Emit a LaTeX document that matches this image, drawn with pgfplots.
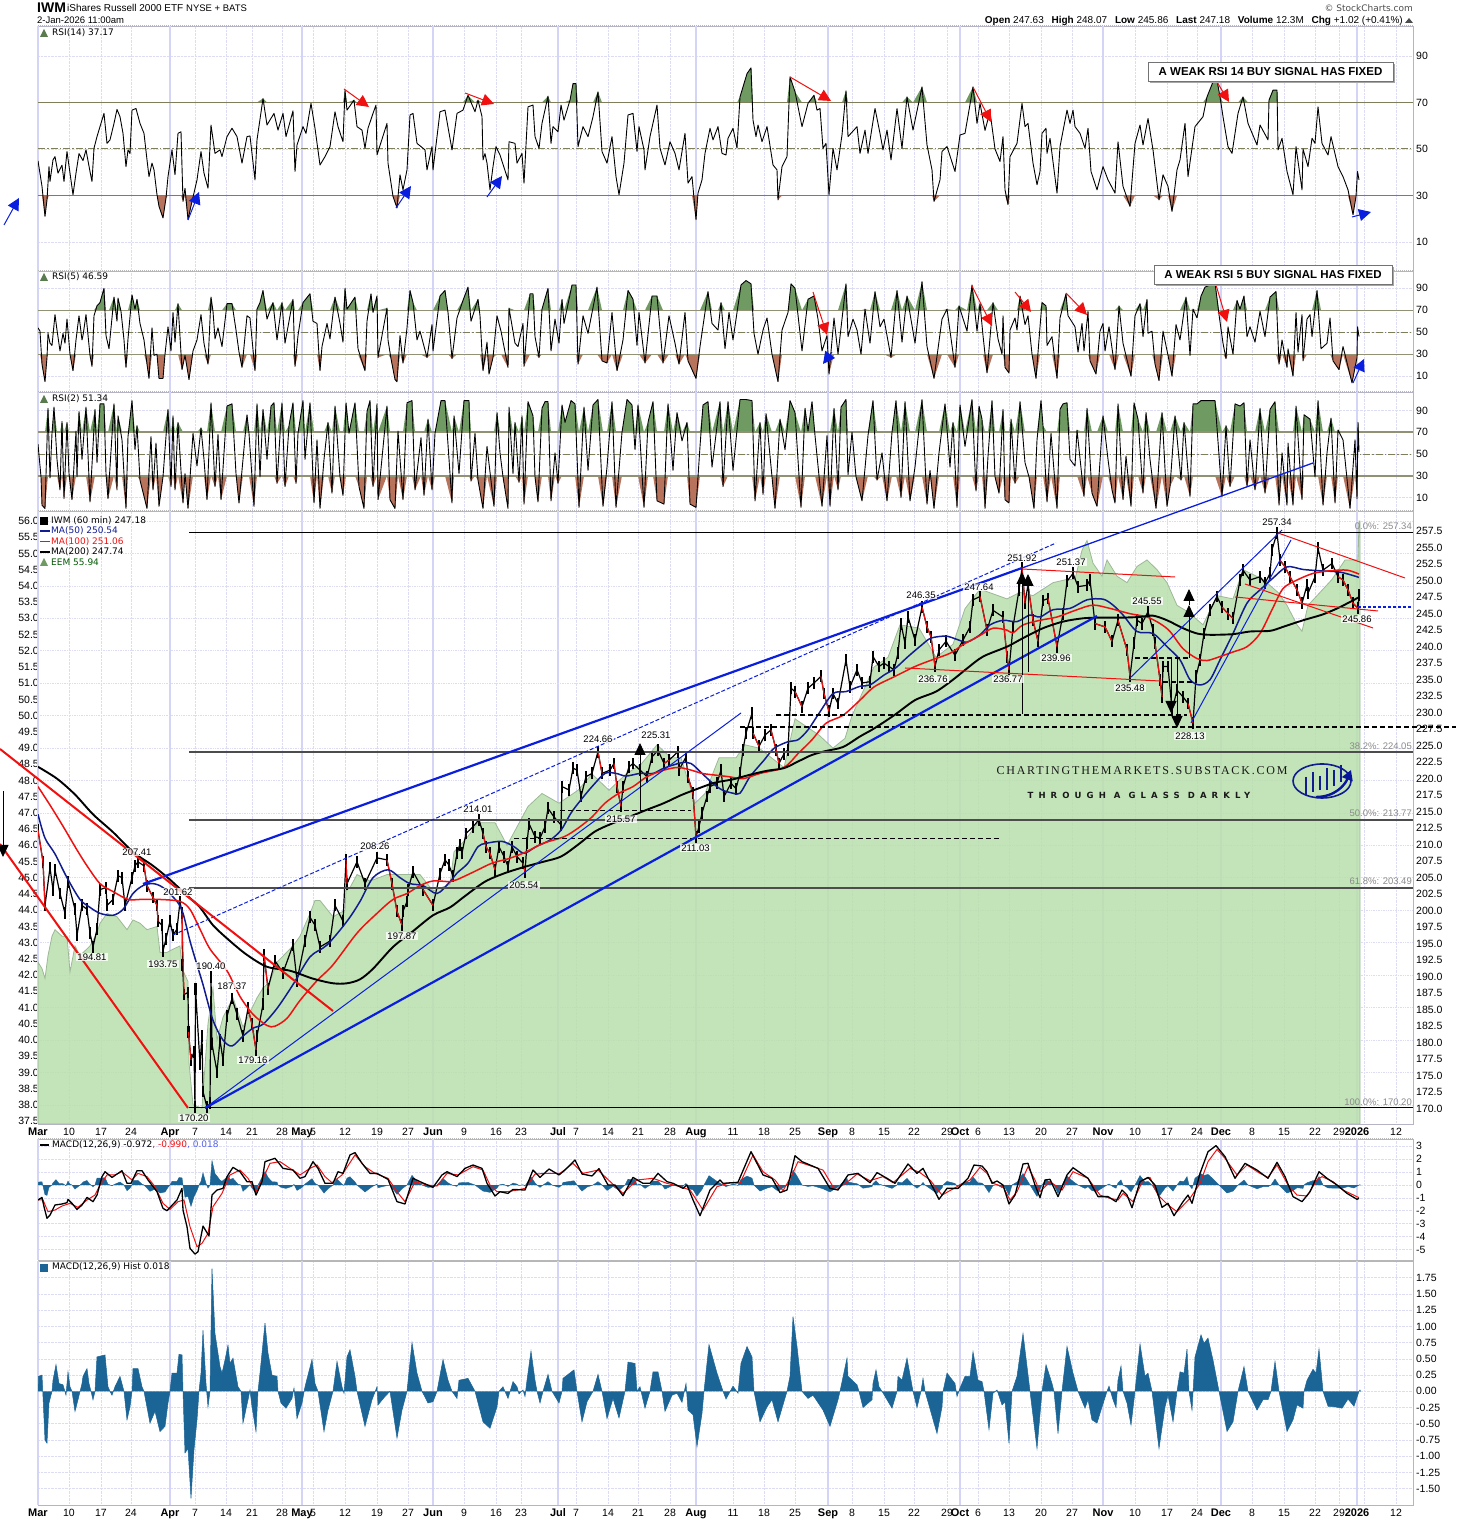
\documentclass[border=0pt]{standalone}
\usepackage{fontspec}
\setmainfont{Liberation Sans}
\newfontfamily\djf{DejaVu Sans}
\newfontfamily\wma[LetterSpace=15]{Liberation Serif}
\newfontfamily\wmb[LetterSpace=60]{DejaVu Sans}
\usepackage{pgfplots}
\usepackage{pgfplotstable}
\pgfplotsset{compat=1.18}
\usetikzlibrary{arrows.meta}
\definecolor{gridc}{HTML}{DCDCF4}
\definecolor{monthc}{HTML}{D4D4F6}
\definecolor{framec}{HTML}{B4B4C4}
\definecolor{upc}{HTML}{6F9A62}
\definecolor{dnc}{HTML}{B8735C}
\definecolor{levc}{HTML}{7E7E5A}
\definecolor{eemc}{HTML}{BAE0AE}
\definecolor{eeme}{HTML}{9DB897}
\definecolor{histc}{HTML}{1B6496}
\definecolor{navyl}{HTML}{101C90}
\definecolor{bluel}{HTML}{0A1EE0}
\definecolor{redl}{HTML}{F01010}
\definecolor{fibg}{HTML}{8A8A8A}
\pgfplotstableread[row sep=\\]{x y\\
38 44.9\\42 33.9\\45 21\\47 28.1\\49 42.4\\50 36\\53 45.3\\55 46.7\\58 39.6\\62 43\\64 36\\67 48.9\\70 39.6\\73 30.3\\76 39.6\\79 48\\83 45\\86 49.6\\90 40.3\\92 36\\94 50.3\\97 55.3\\100 59.6\\104 65.3\\107 52.4\\110 53.9\\114 61\\117 67\\120 63.9\\123 56.7\\126 42.4\\128 49.6\\130 48\\132 66.7\\136 67.4\\140 61\\144 56.7\\147 45.3\\149 38.1\\152 43.9\\154 41\\157 30.3\\159 25.3\\163 20.3\\166 28.9\\168 38.1\\172 49.6\\175 38.9\\178 56.7\\181 57.4\\183 27.4\\185 33.1\\188 19.6\\192 27.4\\197 36.7\\201 48.9\\204 39.6\\208 33.1\\211 60.3\\215 48.1\\220 49.6\\222 46.7\\227 55.3\\232 58.9\\237 55.3\\242 43.9\\247 55.3\\250 55.6\\255 36.7\\257 53.9\\263 71.7\\267 60.3\\274 65.3\\278 58.1\\283 65.3\\286 55.3\\293 66.4\\295 40.3\\297 51.7\\303 59.6\\306 56.7\\311 69.6\\315 58.9\\320 43.1\\325 46.7\\330 51\\335 66\\338 59.6\\343 53.1\\345 75.3\\347 66.7\\354 71\\357 59.6\\362 58.1\\365 50.3\\368 58.9\\373 65.3\\376 68.9\\377 47.4\\387 61\\388 43.9\\393 29.6\\397 24.6\\400 38.9\\403 32.4\\407 41\\410 64.6\\413 65.3\\417 52.4\\425 49.6\\427 41\\432 51\\433 41\\440 66\\445 66.7\\452 49.6\\457 65.3\\463 66.7\\468 73.1\\475 66\\478 71\\482 63.9\\
483 45.3\\485 48\\487 43.9\\490 32.4\\493 42.4\\496 51\\500 47.4\\508 36.7\\509 53.1\\515 52.4\\517 43.9\\522 48.1\\524 35.3\\528 68.1\\533 68.9\\535 55.3\\539 50.3\\542 61\\548 72.7\\551 52.4\\553 59.6\\558 57.4\\561 68.9\\564 62.4\\570 71\\573 78.1\\576 78.1\\578 51\\583 59.6\\588 55.3\\593 63.9\\598 74.6\\602 48.9\\607 43.9\\612 55.3\\616 38.1\\619 30.3\\624 43.9\\628 64.6\\633 65.3\\637 48.9\\639 59.6\\644 49.6\\645 41\\650 55.3\\657 68.9\\660 50.3\\665 43.1\\670 53.1\\675 48.1\\679 41\\685 56.7\\688 35.3\\692 38.1\\696 19.6\\698 31\\702 36.7\\705 48.1\\710 58.9\\713 53.9\\718 59.6\\722 48.1\\726 47.4\\728 54.6\\733 58.9\\737 50.3\\740 72.4\\747 82.4\\751 84.9\\753 62.4\\756 55.3\\758 60.3\\762 53.1\\767 59.6\\773 43.1\\777 41\\778 28.1\\782 42.4\\787 46.7\\790 81\\795 74.6\\802 59.6\\808 69.6\\814 73.1\\817 66.7\\820 67.4\\823 50.3\\826 52.4\\829 30.3\\833 50.3\\837 41\\842 56\\846 75\\848 55.3\\857 59.6\\860 48.1\\865 58.1\\868 48.1\\875 67.4\\880 56.7\\883 49.6\\887 58.1\\891 45.3\\897 67.4\\902 50.3\\907 72.4\\913 58.1\\922 76.7\\927 51.7\\932 41\\934 27.4\\940 36.7\\942 48.9\\947 51\\955 40.3\\960 56\\965 56.7\\973 76.7\\977 61\\980 69.6\\985 58\\990 66\\995 50\\
1000 44.6\\1003 55.3\\1005 32.4\\1008 26\\1010 46.7\\1017 52.4\\1022 69.6\\1025 59.6\\1028 61\\1033 43.9\\1037 34.6\\1040 40.3\\1042 56.7\\1046 58.9\\1047 48.1\\1050 54.6\\1057 31\\1060 51\\1067 66.7\\1070 61\\1073 66.7\\1075 59.6\\1080 56.7\\1085 50.3\\1088 58.9\\1091 40.3\\1097 32.4\\1103 42.4\\1108 36.7\\1115 31\\1118 53.1\\1123 33.9\\1130 25.3\\1135 52.4\\1140 60.3\\1143 51.7\\1148 63.1\\1153 49.6\\1159 28.1\\1163 38.9\\1168 33.9\\1172 23.1\\1177 41\\1180 45.3\\1185 61\\1188 38.1\\1195 59.6\\1203 63.9\\1207 72.4\\1213 78.9\\1217 79.6\\1220 72.4\\1223 63.9\\1228 51\\1232 48.1\\1238 65.3\\1243 72.4\\1248 61\\1257 51.7\\1260 60.3\\1268 53.9\\1269 71\\1273 75.3\\1277 75.3\\1278 49.6\\1282 54.6\\1287 40.3\\1293 30.3\\1296 51\\1302 32.4\\1303 50\\1308 42.4\\1312 54.6\\1315 52.4\\1318 68.1\\1322 52.4\\1328 47.4\\1331 55.3\\1338 42.4\\1343 38.1\\1348 32.4\\1353 21.7\\1356 29.6\\1357.5 40.3\\1359 36.7\\
}\rsiA
\pgfplotstableread[row sep=\\]{x y\\
38 54\\40 51\\42 21\\45 5\\47 27\\48 49\\50 40\\52 38\\55 66\\57 52\\60 33\\63 49\\65 40\\67 62\\70 30\\73 15\\76 43\\79 65\\82 43\\83 47\\86 66\\90 29\\92 19\\94 65\\97 74\\100 77\\104 90\\106 47\\109 35\\114 82\\117 60\\118 81\\121 69\\124 43\\126 18\\128 44\\132 84\\135 71\\137 80\\140 58\\144 43\\147 21\\149 8\\152 54\\154 29\\157 30\\159 8\\163 8\\165 30\\168 55\\171 33\\173 68\\175 41\\178 76\\182 16\\185 29\\189 7\\193 33\\197 43\\201 66\\204 40\\208 21\\211 82\\213 69\\215 44\\218 54\\222 37\\227 76\\232 76\\236 52\\239 32\\242 18\\247 65\\250 63\\255 15\\257 71\\260 77\\263 88\\267 62\\273 77\\277 43\\282 77\\285 40\\293 80\\295 19\\298 47\\303 77\\310 85\\313 60\\317 58\\320 15\\322 37\\327 58\\330 44\\335 82\\340 58\\343 41\\345 90\\347 71\\355 82\\358 35\\365 15\\367 60\\371 85\\373 68\\377 83\\378 27\\387 72\\388 43\\391 26\\395 7\\397 5\\400 47\\403 22\\407 54\\410 88\\413 77\\417 43\\420 51\\427 27\\432 57\\433 33\\440 83\\445 88\\448 68\\452 26\\457 63\\463 79\\468 91\\471 60\\478 80\\480 65\\
483 15\\487 41\\489 12\\493 27\\497 65\\501 51\\508 18\\509 72\\515 40\\518 37\\523 58\\524 19\\530 85\\533 85\\535 46\\539 27\\542 71\\548 90\\551 33\\555 62\\559 40\\562 80\\564 58\\572 93\\576 93\\578 21\\583 65\\588 49\\597 91\\602 24\\607 22\\612 68\\617 15\\623 43\\628 88\\633 80\\637 38\\639 68\\645 22\\652 83\\657 83\\663 22\\669 65\\675 40\\679 21\\685 68\\688 24\\696 8\\700 37\\708 87\\712 58\\718 52\\721 77\\725 35\\729 68\\733 43\\741 93\\746 97\\751 94\\754 49\\758 30\\763 52\\767 63\\772 30\\778 5\\782 52\\788 68\\791 94\\795 90\\802 33\\808 80\\814 83\\818 62\\822 33\\827 47\\829 12\\834 63\\838 30\\846 94\\848 46\\853 62\\857 52\\861 30\\865 71\\870 40\\875 87\\880 55\\884 62\\891 27\\897 88\\902 41\\907 83\\915 40\\922 96\\927 37\\934 8\\942 62\\947 71\\955 18\\959 74\\967 51\\
972 93\\977 51\\980 76\\983 47\\987 13\\993 77\\998 44\\1002 30\\1003 65\\1005 18\\1009 13\\1010 52\\1015 63\\1017 52\\1020 83\\1025 57\\1028 65\\1032 30\\1036 8\\1040 55\\1042 77\\1046 74\\1047 38\\1052 46\\1057 8\\1060 63\\1066 85\\1068 65\\1075 55\\1078 32\\1082 58\\1084 33\\1088 69\\1090 24\\1096 12\\1100 51\\1103 58\\1105 33\\1109 55\\1115 16\\1119 74\\1123 40\\1131 10\\1135 65\\1140 76\\1143 46\\1147 80\\1148 49\\1152 51\\1155 21\\1159 6\\1163 51\\1168 29\\1172 10\\1176 57\\1180 43\\1186 82\\1190 29\\1193 71\\1197 63\\1201 83\\1205 91\\1215 95\\1219 66\\1223 40\\1226 26\\1228 55\\1233 30\\1237 79\\1240 71\\1244 83\\1247 46\\1250 55\\1255 41\\1260 69\\1265 46\\1270 82\\1276 87\\1279 21\\1282 43\\1287 18\\1288 35\\1293 10\\1296 68\\1298 32\\1302 66\\1303 24\\1307 62\\1310 66\\1312 46\\1317 88\\1321 35\\1327 40\\1330 63\\1333 24\\1339 16\\1343 37\\1352 4\\1357 27\\1357.5 55\\1359 46\\
}\rsiB
\pgfplotstableread[row sep=\\]{x y\\
38 59\\41 29\\42 3\\45 0\\48 92\\50 28\\52 69\\54 93\\57 45\\60 17\\62 80\\64 9\\67 79\\69 32\\72 8\\76 71\\77 29\\79 89\\82 45\\86 93\\90 6\\95 91\\97 42\\100 96\\104 96\\106 32\\108 9\\114 96\\117 17\\118 85\\122 63\\126 0\\128 66\\132 99\\135 54\\137 76\\140 26\\147 0\\151 66\\153 17\\156 60\\159 2\\163 29\\168 91\\171 20\\173 85\\175 17\\178 79\\183 5\\185 32\\188 0\\193 69\\197 39\\201 74\\204 45\\207 8\\211 97\\215 20\\218 68\\221 8\\227 94\\232 96\\236 32\\239 5\\243 45\\247 86\\249 69\\254 2\\257 96\\260 29\\263 91\\267 45\\271 94\\274 97\\277 23\\282 97\\285 20\\289 76\\293 97\\296 23\\298 69\\303 99\\305 45\\310 97\\314 5\\317 63\\320 0\\324 45\\328 79\\332 14\\335 94\\340 29\\343 12\\346 97\\349 69\\355 97\\359 20\\364 0\\367 89\\370 99\\373 20\\377 96\\378 8\\387 94\\390 8\\395 0\\398 71\\403 8\\407 97\\412 99\\415 17\\421 65\\424 12\\428 82\\432 17\\435 69\\441 99\\445 99\\452 5\\454 85\\459 32\\464 99\\469 99\\471 25\\475 69\\478 26\\483 0\\
487 57\\494 2\\497 88\\500 51\\503 29\\508 0\\509 93\\513 32\\515 79\\519 24\\522 85\\524 4\\528 98\\533 85\\535 29\\538 6\\542 92\\545 98\\548 98\\551 7\\555 51\\558 23\\562 95\\565 79\\571 99\\575 96\\579 1\\584 93\\588 35\\593 95\\598 100\\603 2\\607 38\\612 98\\616 1\\622 70\\627 100\\632 95\\635 54\\638 95\\644 1\\648 79\\653 98\\657 7\\664 4\\668 96\\673 35\\677 88\\682 62\\687 79\\690 4\\696 1\\700 57\\703 95\\708 98\\712 38\\720 98\\723 20\\728 98\\733 35\\740 100\\746 100\\752 99\\755 7\\760 79\\763 13\\766 87\\772 29\\775 0\\780 82\\785 54\\790 99\\795 88\\801 1\\805 92\\808 71\\812 98\\815 67\\822 2\\827 67\\830 2\\834 92\\838 17\\841 93\\846 100\\848 31\\852 70\\856 29\\862 7\\868 67\\873 99\\877 26\\882 51\\887 7\\892 70\\896 99\\901 10\\905 98\\910 7\\915 38\\922 100\\927 4\\930 35\\934 0\\939 51\\945 96\\950 38\\953 79\\957 1\\960 95\\965 57\\972 100\\
976 16\\979 94\\982 82\\985 0\\988 48\\992 99\\995 29\\999 14\\1003 91\\1005 8\\1009 5\\1011 82\\1015 23\\1020 98\\1025 42\\1029 29\\1034 0\\1037 63\\1041 99\\1043 76\\1047 6\\1051 69\\1057 0\\1060 91\\1063 96\\1067 97\\1070 45\\1075 39\\1077 72\\1084 11\\1087 92\\1092 14\\1097 2\\1103 85\\1108 45\\1112 17\\1115 5\\1118 96\\1123 8\\1126 48\\1131 2\\1134 97\\1138 82\\1143 14\\1146 88\\1150 45\\1156 0\\1162 88\\1167 2\\1170 20\\1175 85\\1181 26\\1184 79\\1190 11\\1193 96\\1197 96\\1201 99\\1208 99\\1215 99\\1222 11\\1226 76\\1230 20\\1235 96\\1240 94\\1244 97\\1247 20\\1250 63\\1255 17\\1260 92\\1265 14\\1270 91\\1275 98\\1279 3\\1282 51\\1287 3\\1288 60\\1293 3\\1296 94\\1302 8\\1304 86\\1310 82\\1315 29\\1318 99\\1323 3\\1327 51\\1331 83\\1335 5\\1338 72\\1343 63\\1350 0\\1355 63\\1357 9\\1358 79\\1359 52\\
}\rsiC
\pgfplotstableread[row sep=\\]{x y\\
38 42.4\\42 42.2\\45 41.9\\48 42.6\\52 43.2\\55 43.4\\62 43.2\\67 43.2\\70 42.1\\75 42.9\\80 42.6\\90 42.9\\97 43.3\\100 43.6\\107 43.9\\117 43.8\\127 43.4\\133 43.7\\140 43.6\\147 43.4\\157 43.5\\160 42.7\\167 42.7\\173 42.8\\180 42.9\\182 42.2\\188 41.8\\189 39.3\\193 38\\202 37.9\\208 40.5\\213 41.6\\217 40\\223 40.7\\233 41.3\\243 40.4\\257 41.3\\263 41.6\\270 41.8\\277 42.4\\293 42.9\\300 43.2\\310 43.9\\315 44.3\\320 44.3\\333 43.8\\345 44\\346 44.6\\350 44.7\\357 45.1\\370 44.9\\387 45.1\\407 45.1\\420 45.1\\433 44.6\\450 44.8\\454 45.8\\466 46.2\\478 46.7\\495 46.7\\502 46.3\\507 46\\528 47.2\\542 47.6\\559 47.3\\578 47.7\\592 48.2\\609 47.7\\626 48.2\\641 48.5\\657 49.1\\671 48.7\\681 48.7\\695 47.3\\705 47.6\\719 48.7\\736 48.7\\745 49.1\\759 49\\784 48.4\\795 49.9\\819 49.4\\833 49\\845 49.3\\852 50\\874 51.5\\888 51.8\\900 52.8\\919 52.7\\936 51.8\\953 52.2\\965 53.3\\980 53.9\\1007 53.6\\1020 53.8\\1033 53.7\\1053 54.1\\1067 54.2\\1075 54.2\\1082 55.1\\1087 55.4\\1093 54.7\\1102 54.3\\1107 54.8\\1117 54.3\\1127 54.1\\1137 54.6\\1147 54.8\\1157 54.5\\1167 54.1\\1177 53.4\\1188 53.2\\1203 52.8\\1217 53.7\\1233 53.6\\1243 54.5\\1263 54.2\\1278 53.8\\1287 53.4\\1297 52.8\\1302 52.6\\1308 53.4\\1320 53.8\\1332 54.2\\1345 54.8\\1358 54.8\\1359 56\\1360 56\\
}\eem
\pgfplotstableread[row sep=\\]{x y\\
38 212.2\\43 207.4\\45 200.8\\50 206.5\\53 203.2\\55 206.2\\60 202.6\\65 199.6\\68 204.4\\75 200.2\\77 196.3\\82 200.8\\87 200.2\\90 196.6\\93 194.5\\97 197.2\\100 203.2\\106 203.5\\107 200.8\\113 201.7\\118 205.3\\122 205\\125 200.8\\132 205\\135 206.8\\138 207.4\\144 206.8\\147 203.8\\153 202\\157 200.8\\158 198.4\\162 197.8\\163 193.9\\166 195.7\\170 198.4\\173 196.3\\177 197.2\\180 201.4\\182 199.6\\182.5 191.8\\184 187.3\\188 187.6\\188.5 181.6\\191 177.4\\194 178.6\\195 170.2\\195.5 188.2\\200 176.8\\202 181\\203 172.6\\207 170.2\\210 170.8\\211 190\\212 179.8\\217 175.6\\220 180.4\\223 177.4\\227 184\\232 186.7\\237 184.3\\243 181\\248 185.2\\252 182.8\\256 178.9\\257 181\\263 185.8\\264 193.3\\268 188.2\\275 192.4\\283 190.6\\293 194.8\\297 189.4\\305 195.4\\310 199\\315 197.8\\320 194.5\\330 195.4\\335 200.8\\343 198.4\\346 207.7\\347 204.1\\357 207.4\\365 204.1\\377 208\\387 207.7\\392 204.1\\397 199.9\\402 197.8\\403 199.9\\407 201.4\\408 203.2\\413 205.9\\423 203.2\\433 200.8\\440 205.6\\445 207.7\\449 206.9\\453 205.2\\457 208.7\\460 210\\462 208.7\\466 211.7\\473 212.7\\479 213.8\\483 211.7\\486 209.7\\490 208.7\\495 206.2\\499 209.7\\504 208.2\\508 206.7\\512 209.7\\517 208.2\\523 207.2\\525 205.9\\527 210.2\\529 213.2\\535 211.2\\540 211\\545 212.7\\548 215.5\\554 214.2\\561 213\\562 218.8\\569 218.3\\573 221.6\\577 221.3\\581 217.3\\586 220.3\\592 220.8\\598 224.1\\602 220.8\\610 221.3\\614 222.3\\617 218.8\\621 215.8\\623 218.8\\629 221.8\\633 222.3\\640 221.3\\647 220.3\\652 223.3\\658 224.3\\664 222.3\\669 222.8\\678 224.1\\679 221.3\\686 223.3\\688 220.3\\693 217.8\\696 211.2\\699 212.7\\702 214.8\\707 217.3\\710 218.8\\717 219.3\\721 221.3\\724 217.3\\731 219.3\\736 218.5\\740 220.8\\743 224.4\\746 226.9\\752 229.9\\753 226.9\\759 224.9\\765 226.6\\771 227.4\\776 224.4\\779 222.3\\784 223.8\\788 224.4\\791 233.7\\795 233.2\\802 230.9\\808 233.7\\814 234.5\\821 235.5\\824 232.9\\829 230.2\\833 232.9\\838 231.4\\846 238\\850 233.9\\857 236.5\\862 234.5\\870 234.7\\873 238.5\\879 237\\884 237.5\\889 237\\894 236.5\\898 239\\901 243.5\\905 240.5\\908 244.5\\915 241\\922 246\\927 243\\931 241.5\\935 237\\939 239.5\\946 240.8\\955 238.7\\963 241\\970 243\\973 247.1\\980 247.6\\987 242.5\\993 245.5\\1003 244.5\\1007 238.5\\1009 236.5\\1013 243\\1019 248.6\\1022 251.9\\1025 246.6\\1028 249.4\\1033 244\\1038 240.8\\1043 247\\1048 247.3\\1057 240\\1063 245\\1067 249.9\\1073 251.1\\1078 249.1\\1087 249.3\\1090 250.1\\1095 243.5\\1105 243\\1112 240.8\\1118 244\\1127 239.5\\1130 235.5\\1134 240.5\\1137 244\\1142 243.5\\1148 245.3\\1153 242.5\\1155 240.5\\1160 235\\1162 232.4\\1163 237\\1168 237\\1172 230.4\\1177 233.4\\1183 232.4\\1188 231.4\\1193 228.4\\1196 235.5\\1200 238\\1204 242\\1210 245.5\\1217 247.6\\1222 246\\1228 245\\1233 244.3\\1240 250.1\\1243 251.6\\1250 250.1\\1260 250.6\\1265 249.6\\1270 251.1\\1272 254.7\\1277 257.2\\1280 253.1\\1285 252.1\\1290 250.6\\1297 248.6\\1302 246.6\\1307 249.3\\1308 248.1\\1315 250.6\\1318 254.9\\1323 251.6\\1332 252.6\\1338 250.6\\1343 250.1\\1348 248.6\\1353 246.6\\1358 245.8\\1359 247.8\\
}\px
\pgfplotstableread[row sep=\\]{x y\\
38 212.2\\43 207.4\\45 200.8\\46 nan\\144 206.8\\147 203.8\\153 202\\157 200.8\\158 198.4\\159 nan\\182 199.6\\184 187.3\\185 nan\\188.5 181.6\\191 177.4\\192 nan\\248 185.2\\252 182.8\\256 178.9\\257 nan\\264 193.3\\268 188.2\\269 nan\\346 207.7\\347 204.1\\348 nan\\387 207.7\\392 204.1\\397 199.9\\402 197.8\\403 nan\\423 203.2\\433 200.8\\434 nan\\483 211.7\\486 209.7\\490 208.7\\495 206.2\\496 nan\\523 207.2\\525 205.9\\526 nan\\598 224.1\\602 220.8\\603 nan\\614 222.3\\617 218.8\\621 215.8\\622 nan\\664 222.3\\669 222.8\\670 nan\\688 220.3\\693 217.8\\696 211.2\\697 nan\\753 226.9\\759 224.9\\760 nan\\771 227.4\\776 224.4\\779 222.3\\780 nan\\795 233.2\\802 230.9\\803 nan\\821 235.5\\824 232.9\\829 230.2\\830 nan\\922 246\\927 243\\931 241.5\\935 237\\936 nan\\980 247.6\\987 242.5\\988 nan\\1003 244.5\\1007 238.5\\1009 236.5\\1010 nan\\1022 251.9\\1025 246.6\\1026 nan\\1028 249.4\\1033 244\\1038 240.8\\1039 nan\\1048 247.3\\1057 240\\1058 nan\\1095 243.5\\1105 243\\1112 240.8\\1113 nan\\1118 244\\1127 239.5\\1130 235.5\\1131 nan\\1155 240.5\\1160 235\\1162 232.4\\1163 nan\\1188 231.4\\1193 228.4\\1194 nan\\1222 246\\1228 245\\1233 244.3\\1234 nan\\1280 253.1\\1285 252.1\\1290 250.6\\1297 248.6\\1302 246.6\\1303 nan\\1338 250.6\\1343 250.1\\1348 248.6\\1353 246.6\\1358 245.8\\
}\pxr
\pgfplotstableread[row sep=\\]{x y\\
38 214.6\\45 211\\55 208.6\\67 205\\80 201.7\\90 200.5\\100 199.6\\113 199.3\\123 200.2\\133 202.6\\143 203.8\\153 204.1\\163 203.5\\177 201.4\\183 199.6\\190 195.4\\197 191.8\\203 188.8\\213 183.4\\223 180.4\\232 179.5\\243 181\\253 182.2\\263 182.8\\277 185.2\\293 188.8\\310 193\\327 194.8\\347 198.4\\360 201.4\\373 205\\388 206.2\\400 205\\410 204.1\\423 203.8\\437 202.6\\450 204.4\\457 205.7\\468 207.2\\478 209.7\\486 210.2\\502 210.5\\514 209.7\\524 208.7\\536 209.7\\550 210.7\\561 212.2\\571 214.8\\581 216.8\\592 218.8\\605 220.8\\616 220.8\\626 220.4\\640 220.8\\653 220.8\\664 221.6\\681 222.4\\691 222.3\\702 220.8\\712 219.4\\722 218.3\\733 217.8\\740 217.8\\750 220.3\\764 222.8\\774 224.6\\788 225.6\\798 225.9\\808 227.4\\819 229.9\\833 232.9\\846 233.2\\860 234\\870 234.2\\884 235.7\\895 236.7\\908 238.5\\922 240.3\\931 241.3\\946 241.6\\957 241.1\\967 240.7\\980 241.8\\990 243.3\\1003 244\\1017 243.8\\1030 244.8\\1040 244.5\\1053 245.6\\1070 245.8\\1087 247.1\\1103 247.2\\1113 246.3\\1123 244.8\\1137 242.3\\1153 242\\1167 240\\1180 238\\1190 235\\1200 234.2\\1210 235\\1220 238\\1233 242\\1247 246.6\\1260 248.6\\1273 250.4\\1287 252.1\\1303 251.7\\1320 251.5\\1340 251.3\\1359 250.5\\
}\maA
\pgfplotstableread[row sep=\\]{x y\\
38 218.8\\50 216\\63 212.8\\77 209.2\\87 206.8\\100 204.1\\113 202.9\\128 201.7\\140 201.7\\160 201.7\\180 201.4\\190 200.2\\200 197.2\\210 194.2\\227 190.9\\240 187\\253 184.3\\267 182.6\\275 182.5\\287 183.7\\300 186.4\\317 189.4\\333 191.8\\357 196.6\\377 199.6\\393 201.7\\407 202.6\\420 203.8\\433 204.5\\450 204.4\\457 204.7\\474 205.9\\492 207.2\\509 207.9\\526 208.9\\543 210.2\\564 211.2\\578 212.5\\592 214.2\\605 216.3\\619 217.8\\633 218.8\\647 220.3\\664 221.3\\678 221.7\\691 221.3\\702 220.8\\712 220.6\\729 220.3\\743 220\\760 220.8\\784 221.7\\798 223.8\\812 225.9\\826 228.4\\843 229.6\\860 231.9\\874 233.9\\895 235.5\\915 237\\932 238\\950 239\\963 240.3\\980 241.7\\993 242.8\\1007 242.5\\1013 242.1\\1023 243.3\\1040 244\\1057 244.5\\1077 245.6\\1093 246.3\\1110 245.8\\1130 245\\1147 244.5\\1160 243.5\\1170 242.3\\1183 239.7\\1197 238.2\\1207 237.9\\1220 238.5\\1233 239.2\\1247 240\\1260 242\\1272 245.6\\1283 248.8\\1297 250.1\\1313 251.1\\1330 251.5\\1347 251.6\\1359 251\\
}\maB
\pgfplotstableread[row sep=\\]{x y\\
38 221.8\\57 220\\75 217.6\\93 214.6\\113 211.9\\133 208.9\\153 206.8\\170 204.7\\187 202.3\\200 200.5\\213 197.8\\230 195.4\\247 193.3\\267 191.5\\290 190.9\\313 189.7\\333 189\\347 189\\360 189.6\\373 191.2\\393 194.5\\413 196.9\\433 199.3\\450 200.5\\464 202.1\\485 204.4\\505 205.7\\526 206.7\\543 207.4\\561 208.2\\578 210\\595 212\\612 213.2\\629 214.2\\647 215.3\\664 216.3\\681 217.5\\698 218.5\\715 219.4\\733 219.9\\750 220.6\\767 221.2\\784 221.6\\798 222.6\\812 223.6\\826 224.2\\843 224.8\\860 226.4\\874 227.6\\895 229.7\\915 231.9\\936 233.2\\953 235\\967 236.7\\983 238.5\\1007 240\\1023 241.3\\1043 242.8\\1063 243.8\\1083 244.3\\1100 244.4\\1120 244.4\\1140 244.5\\1153 244.7\\1167 244\\1183 242.8\\1197 242\\1210 241.8\\1233 241.9\\1250 242.3\\1270 242.4\\1283 243\\1303 244\\1323 244.9\\1340 246\\1359 247.5\\
}\maC
\pgfplotstableread[row sep=\\]{x y\\
38 -1.16\\42 -.96\\44 -1.68\\47 -2.58\\50 -2.33\\55 -1.55\\62 -1.47\\67 -1.37\\68 -1.11\\72 -1.42\\77 -1.89\\82 -1.55\\87 -.96\\93 -1.29\\97 -.78\\102 .65\\105 1.03\\112 .59\\122 1.11\\127 .13\\131 .13\\137 1.11\\142 1.11\\148 .39\\157 -.52\\163 -1.81\\167 -1.99\\177 -1.16\\182 -.26\\183 -1.94\\187 -3.23\\190 -4.91\\195 -5.35\\198 -5.17\\203 -3.18\\209 -3.95\\212 -.78\\217 -.39\\223 -.26\\227 .65\\233 1.37\\240 1.03\\247 .26\\252 .26\\256 -.78\\262 .26\\265 1.81\\275 2.07\\283 1.29\\293 1.16\\300 .52\\305 .65\\313 1.81\\318 1.29\\325 .13\\333 .13\\338 1.03\\343 .9\\350 2.33\\355 2.51\\362 1.68\\370 .9\\377 .9\\388 .44\\397 -1.29\\405 -1.47\\413 .52\\420 .26\\433 -.18\\442 .78\\447 1.03\\457 .65\\465 1.29\\473 1.55\\482 1.29\\487 .13\\495 -.85\\500 -.52\\508 -.65\\513 -.34\\525 -.39\\533 1.16\\540 .59\\549 1.24\\559 .78\\565 1.16\\575 1.94\\582 .85\\592 .7\\599 1.27\\608 0\\615 0\\623 -.83\\633 .59\\643 .13\\650 .13\\658 .9\\667 .26\\673 .13\\683 -.26\\687 0\\693 -1.16\\700 -2.38\\710 -.39\\720 .39\\723 .13\\738 .21\\751 2.58\\763 .78\\772 .52\\780 -.59\\787 -.39\\795 2.27\\802 1.81\\818 1.29\\830 -.26\\838 -.39\\848 .78\\858 .9\\870 .18\\877 .96\\887 .52\\895 .13\\908 1.63\\917 .9\\923 1.29\\939 -1.11\\947 -.26\\958 -.26\\968 .52\\974 1.55\\982 1.47\\987 1.03\\992 .13\\997 .31\\1003 0\\1009 -1.47\\1015 -.78\\1023 1.63\\1028 1.68\\1035 0\\1040 -.98\\1045 .39\\1050 .44\\1058 -.9\\1067 .78\\1073 1.34\\1088 .52\\1098 -.9\\1108 -.9\\1116 -1.29\\1122 -.39\\1127 -.78\\1132 -1.76\\1140 .26\\1148 .59\\1155 0\\1162 -1.73\\1168 -1.42\\1174 -2.38\\1183 -1.29\\1188 -.78\\1192 -1.42\\1200 .9\\1208 2.58\\1216 3.05\\1225 2.2\\1235 .52\\1245 1.68\\1257 1.16\\1268 .52\\1277 1.76\\1285 .65\\1293 -.9\\1302 -1.29\\1310 -.52\\1319 1.03\\1327 .52\\1337 0\\1347 -.65\\1357 -1.11\\1359 -1.03\\
}\macd
\pgfplotstableread[row sep=\\]{x y\\
38 -1.16\\43 -1.16\\48 -2.07\\55 -1.94\\62 -1.63\\70 -1.42\\78 -1.73\\87 -1.16\\95 -.78\\100 0\\107 .78\\115 .78\\122 1.03\\132 .39\\138 .9\\147 .65\\155 -.13\\163 -1.42\\170 -1.89\\178 -1.29\\184 -1.16\\190 -3.23\\197 -4.78\\202 -4.52\\208 -3.75\\213 -1.68\\222 -.65\\230 .78\\240 1.16\\248 .52\\256 -.52\\263 .52\\270 1.68\\280 1.81\\290 1.29\\300 .78\\310 1.29\\317 1.55\\325 .65\\332 .18\\342 .78\\355 2.33\\365 1.42\\375 .9\\388 .52\\397 -.52\\405 -1.29\\415 .26\\427 0\\437 -.08\\447 .9\\458 .78\\473 1.42\\483 1.16\\490 0\\497 -.52\\507 -.52\\517 -.39\\525 -.26\\535 .85\\547 .9\\560 .9\\573 1.68\\583 .9\\598 1.16\\612 .13\\623 -.65\\637 .39\\653 .52\\667 .13\\680 -.13\\690 -.39\\703 -1.94\\717 -.13\\730 .18\\740 .13\\753 2.33\\763 1.03\\775 .39\\783 -.44\\792 .78\\798 1.81\\813 1.42\\823 1.16\\833 -.13\\838 -.26\\850 .39\\857 .85\\870 .34\\883 .65\\893 .18\\910 1.29\\920 .96\\930 .39\\942 -.78\\957 -.13\\970 .39\\980 1.37\\987 .9\\993 .13\\1003 -.13\\1010 -1.16\\1017 -.52\\1028 1.42\\1035 .39\\1040 -.52\\1050 .26\\1062 -.39\\1073 1.03\\1088 .52\\1100 -.78\\1110 -1.03\\1118 -1.16\\1123 -.65\\1133 -1.29\\1143 .39\\1150 .59\\1158 -.78\\1168 -1.55\\1177 -2.07\\1190 -1.03\\1200 .13\\1208 1.81\\1217 2.76\\1225 2.07\\1237 .78\\1247 1.55\\1260 .9\\1268 .59\\1277 1.55\\1288 0\\1297 -.78\\1307 -.85\\1317 .39\\1322 .65\\1333 .26\\1343 -.39\\1359 -.98\\
}\sigl
\pgfplotstableread[row sep=\\]{x y\\
38 0\\38.5 .23\\42 .25\\43 -.08\\45 -.75\\47 -.8\\49 -.18\\52 0\\53 .17\\56 .41\\59 .12\\63 .1\\66 -.06\\68 .3\\70 .07\\72 0\\75 -.31\\78 -.13\\82 .12\\83 .23\\87 .35\\89 .12\\91 0\\93 -.13\\95 0\\97 .53\\105 .56\\108 .07\\110 0\\112 -.06\\115 .07\\120 .23\\124 0\\127 -.44\\130 -.24\\132 0\\133 .35\\138 .35\\142 .07\\144 0\\150 -.49\\155 -.31\\160 -.62\\165 -.54\\168 -.18\\170 0\\172 .28\\177 .28\\179 .57\\182 .56\\183 0\\185 -.95\\188 -.88\\191 -1.65\\194 -.9\\197 -.44\\199 0\\201 .28\\203 .94\\206 .12\\208 -.24\\210 0\\212 1.89\\215 .89\\220 .38\\222 .28\\225 .48\\228 .71\\230 .43\\233 .51\\238 .07\\241 0\\243 -.49\\248 -.13\\250 .02\\252 -.24\\256 -.62\\258 0\\260 .28\\265 1.05\\268 .59\\272 .25\\277 .23\\278 0\\281 -.18\\286 -.26\\292 -.11\\294 .05\\297 -.42\\302 -.18\\305 .07\\312 .49\\315 .12\\318 0\\324 -.62\\328 -.29\\333 0\\337 .46\\342 .07\\344 -.03\\347 .53\\350 .64\\355 .23\\357 0\\365 -.54\\372 -.13\\377 .07\\378 -.21\\385 -.08\\390 0\\397 -.72\\402 -.29\\407 0\\412 .75\\417 .28\\422 0\\428 -.18\\433 -.16\\437 0\\443 .49\\448 .17\\452 0\\457 -.11\\459 .17\\468 .2\\475 0\\483 -.47\\490 -.57\\497 -.24\\499 0\\503 .07\\508 -.11\\513 .15\\517 .07\\519 -.04\\523 .02\\525 -.08\\527 .17\\531 .62\\535 .17\\537 0\\540 -.18\\543 0\\548 .26\\552 0\\559 -.18\\562 0\\563 .2\\574 .33\\577 0\\582 -.47\\587 -.16\\593 0\\598 .26\\602 0\\607 -.42\\613 -.11\\619 -.41\\625 0\\628 .45\\635 .43\\637 0\\640 .07\\645 -.26\\650 0\\653 .3\\658 .3\\662 0\\665 -.31\\672 -.06\\677 -.03\\682 -.17\\686 .12\\688 -.29\\693 -.36\\697 -.85\\702 -.34\\704 0\\709 .72\\717 .28\\723 0\\726 -.12\\733 .08\\738 -.03\\741 .43\\747 .69\\752 .53\\754 0\\760 -.47\\767 -.24\\772 -.13\\778 -.47\\787 0\\790 .23\\793 1.15\\797 .69\\802 0\\808 -.11\\813 -.06\\823 -.29\\830 -.54\\838 -.13\\840 0\\847 .51\\848 .23\\857 .1\\859 0\\863 -.25\\872 -.13\\873 .12\\876 .33\\879 .07\\882 0\\892 -.26\\897 0\\898 .23\\902 .17\\907 .51\\913 0\\917 -.25\\921 0\\923 .2\\925 0\\937 -.65\\942 -.24\\943 0\\947 .28\\955 .12\\957 -.08\\960 .05\\965 .23\\970 .23\\973 .61\\978 .17\\982 .15\\984 0\\989 -.59\\993 -.03\\997 .02\\1002 -.21\\1005 -.16\\1009 -.8\\1012 0\\1017 .23\\1023 .89\\1030 0\\1037 -.88\\1042 0\\1046 .41\\1052 .12\\1054 0\\1058 -.65\\1062 0\\1067 .69\\1073 .28\\1078 0\\1085 -.26\\1088 -.13\\1092 -.44\\1097 -.49\\1102 -.24\\1107 0\\1109 .08\\1113 -.13\\1116 -.25\\1118 .17\\1121 .39\\1123 0\\1127 -.18\\1131 -.52\\1135 0\\1140 .73\\1145 .23\\1148 .28\\1152 0\\1159 -.88\\1165 -.24\\1168 -.06\\1173 -.47\\1177 0\\1180 .3\\1184 .28\\1187 .65\\1189 0\\1192 -.29\\1195 .53\\1201 .87\\1204 .74\\1208 .82\\1213 .48\\1219 0\\1227 -.62\\1233 -.47\\1238 0\\1244 .38\\1248 0\\1257 -.29\\1263 -.13\\1268 -.13\\1271 0\\1275 .46\\1279 0\\1287 -.62\\1293 -.44\\1297 -.21\\1303 -.26\\1304 0\\1307 .17\\1313 .34\\1316 .28\\1319 .65\\1323 0\\1328 -.23\\1335 -.24\\1342 -.26\\1348 -.12\\1354 -.23\\1359 0\\1360 .02\\1360.5 0\\
}\histd
\pgfplotsset{
 panel/.style={scale only axis,width=1375pt,xmin=38,xmax=1413,
  axis line style={draw=framec,line width=.7pt},
  major tick length=0pt,
  xtick={69,101,131,195,226,252,282,313,345,377,408,464,496,521,576,608,638,670,733,764,795,852,884,914,947,978,1009,1041,1072,1135,1167,1197,1252,1284,1315,1339,1364,1396},
  extra x ticks={38,170,302,433,558,696,828,960,1103,1221,1357},
  extra x tick style={grid style={solid,draw=monthc,line width=1.2pt}},
  xticklabels={},
  extra x tick labels={},
  grid=major,
  grid style={densely dotted,draw=gridc,line width=.7pt},
  yticklabel pos=right,
  yticklabel style={font=\fontsize{10.5}{12}\selectfont,anchor=west,inner sep=0pt,xshift=3pt},
  ytick pos=right,
  unbounded coords=jump,
 },
 xlab/.style={
  xticklabels={10,17,24,7,14,21,28,5,12,19,27,9,16,23,7,14,21,28,11,18,25,8,15,22,29,6,13,20,27,10,17,24,8,15,22,29,,12},
  extra x tick labels={\textbf{Mar},\textbf{Apr},\textbf{May},\textbf{Jun},\textbf{Jul},\textbf{Aug},\textbf{Sep},\textbf{Oct},\textbf{Nov},\textbf{Dec},\textbf{2026}},
  xticklabel style={font=\fontsize{10.5}{12}\selectfont,anchor=north,inner sep=0pt,yshift=-3pt,text height=8pt,text depth=2pt},
  extra x tick style={grid style={solid,draw=monthc,line width=1.2pt},xticklabel style={font=\fontsize{11}{12}\selectfont}},
 },
 rsil/.style={black,line width=.9pt,line join=round},
 lev/.style={draw=levc,line width=#1},
 dash/.style={draw=levc,line width=.9pt,dash pattern=on 7pt off 2pt on 1.5pt off 2pt},
 upf/.style={draw=none,fill=upc,y filter/.expression={y>70?y:70}},
 dnf/.style={draw=none,fill=dnc,y filter/.expression={y<30?y:30}},
}
\tikzset{
 plab/.style={font=\fontsize{9.5}{10}\selectfont,fill=white,fill opacity=.78,text opacity=1,inner sep=1pt},
 fibl/.style={font=\fontsize{9.5}{10}\selectfont,text=fibg,anchor=east,inner sep=0pt},
 leg/.style={font=\djf\fontsize{9}{10}\selectfont,anchor=west,inner sep=0pt},
 blar/.style={draw=bluel,line width=1pt,-{Triangle[length=12pt,width=12pt,fill=bluel]}},
 rdar/.style={draw=redl,line width=1pt,-{Triangle[length=12pt,width=12pt,fill=redl]}},
 bkar/.style={draw=black,line width=.9pt,-{Triangle[length=12pt,width=11pt,fill=black]}},
 bd/.style={draw=black,line width=1.5pt,dash pattern=on 5pt off 3pt},
 fibt/.style={draw=black!70,line width=1.6pt},
 rthin/.style={draw=redl,line width=1pt},
 bthin/.style={draw=bluel,line width=1pt},
}
\begin{document}
\begin{tikzpicture}
\useasboundingbox (0,0) rectangle (1456pt,1520pt);
% RSI 14
\begin{axis}[panel,at={(38pt,1249pt)},anchor=south west,height=245pt,ymin=-2.5,ymax=102.9,ytick={10,30,50,70,90},yticklabels={10,30,50,70,90}]
\addplot[upf] table {\rsiA};
\addplot[dnf] table {\rsiA};
\addplot[lev=1pt] coordinates {(38,70)(1413,70)};
\addplot[lev=1pt] coordinates {(38,30)(1413,30)};
\addplot[dash] coordinates {(38,50)(1413,50)};
\addplot[rsil] table {\rsiA};
\end{axis}
% RSI 5
\begin{axis}[panel,at={(38pt,1128pt)},anchor=south west,height=121pt,ymin=-4.3,ymax=105.7,ytick={10,30,50,70,90},yticklabels={10,30,50,70,90}]
\addplot[upf] table {\rsiB};
\addplot[dnf] table {\rsiB};
\addplot[draw=levc!85,line width=1.5pt] coordinates {(38,70)(1413,70)};
\addplot[draw=levc!85,line width=1.5pt] coordinates {(38,30)(1413,30)};
\addplot[dash] coordinates {(38,50)(1413,50)};
\addplot[rsil] table {\rsiB};
\end{axis}
% RSI 2
\begin{axis}[panel,at={(38pt,1009pt)},anchor=south west,height=119pt,ymin=-2.3,ymax=106.9,ytick={10,30,50,70,90},yticklabels={10,30,50,70,90}]
\addplot[upf] table {\rsiC};
\addplot[dnf] table {\rsiC};
\addplot[draw=levc!85,line width=1.5pt] coordinates {(38,70)(1413,70)};
\addplot[draw=levc!85,line width=1.5pt] coordinates {(38,30)(1413,30)};
\addplot[dash] coordinates {(38,50)(1413,50)};
\addplot[rsil] table {\rsiC};
\end{axis}
% main, left scale EEM
\begin{axis}[panel,xlab,at={(38pt,396pt)},anchor=south west,height=613pt,ymin=37.41,ymax=56.31,
 yticklabel pos=left,ytick pos=left,
 yticklabel style={font=\fontsize{10.5}{12}\selectfont,anchor=east,inner sep=0pt,xshift=-2pt},
 ytick={37.5,38,38.5,39,39.5,40,40.5,41,41.5,42,42.5,43,43.5,44,44.5,45,45.5,46,46.5,47,47.5,48,48.5,49,49.5,50,50.5,51,51.5,52,52.5,53,53.5,54,54.5,55,55.5,56},
 yticklabels={37.5,38.0,38.5,39.0,39.5,40.0,40.5,41.0,41.5,42.0,42.5,43.0,43.5,44.0,44.5,45.0,45.5,46.0,46.5,47.0,47.5,48.0,48.5,49.0,49.5,50.0,50.5,51.0,51.5,52.0,52.5,53.0,53.5,54.0,54.5,55.0,55.5,56.0},
 ymajorgrids=false]
\pgfplotsinvokeforeach{38,39,40,41,42,43,44,45,46,47,48,49,50,51,52,53,54,55,56}{\addplot[densely dotted,draw=gridc,line width=.7pt] coordinates {(38,#1)(1413,#1)};}
\addplot[draw=eeme,line width=.8pt,fill=eemc,fill opacity=.88] table {\eem} |- (axis cs:38,37.41) -- cycle;
\end{axis}
% main, right scale price
\begin{axis}[panel,at={(38pt,396pt)},anchor=south west,height=613pt,ymin=167.68,ymax=260.56,
 xmajorgrids=false,extra x ticks={},axis x line=none,axis y line*=right,
 ytick={170,172.5,175,177.5,180,182.5,185,187.5,190,192.5,195,197.5,200,202.5,205,207.5,210,212.5,215,217.5,220,222.5,225,227.5,230,232.5,235,237.5,240,242.5,245,247.5,250,252.5,255,257.5},
 yticklabels={170.0,172.5,175.0,177.5,180.0,182.5,185.0,187.5,190.0,192.5,195.0,197.5,200.0,202.5,205.0,207.5,210.0,212.5,215.0,217.5,220.0,222.5,225.0,227.5,230.0,232.5,235.0,237.5,240.0,242.5,245.0,247.5,250.0,252.5,255.0,257.5},
 ymajorgrids=false]
\addplot[black,line width=1.2pt,line join=round,error bars/.cd,y dir=both,y fixed=.9,error mark=none,error bar style={line width=2.2pt,black}] table {\px};
\addplot[redl,line width=1.1pt,line join=round] table {\pxr};
\addplot[navyl,line width=1.5pt,smooth] table {\maA};
\addplot[redl,line width=1.5pt,smooth] table {\maB};
\addplot[black,line width=1.9pt,smooth] table {\maC};
\end{axis}
% MACD
\begin{axis}[panel,at={(38pt,260pt)},anchor=south west,height=121pt,ymin=-5.81,ymax=3.566,
 ytick={-5,-4,-3,-2,-1,0,1,2,3},yticklabels={-5,-4,-3,-2,-1,0,1,2,3}]
\addplot[draw=histc,fill=histc,line width=.4pt] table {\histd};
\addplot[redl,line width=1pt] table {\sigl};
\addplot[black,line width=1.3pt,line join=round] table {\macd};
\end{axis}
% Histogram
\begin{axis}[panel,xlab,at={(38pt,15pt)},anchor=south west,height=244pt,ymin=-1.752,ymax=2.008,
 ytick={-1.5,-1.25,-1,-.75,-.5,-.25,0,.25,.5,.75,1,1.25,1.5,1.75},
 yticklabels={-1.50,-1.25,-1.00,-0.75,-0.50,-0.25,0.00,0.25,0.50,0.75,1.00,1.25,1.50,1.75}]
\addplot[draw=histc,fill=histc,line width=.5pt] table {\histd};
\end{axis}
% annotations in picture pixels
\begin{scope}[x=1pt,y=-1pt,yshift=1520pt]
\foreach \yy in {26,271,392,511,1139,1261}{\draw[densely dotted,draw=gray!55,line width=1pt] (38,\yy)--(1413,\yy);}
% header
\node[anchor=west,inner sep=0pt,font=\bfseries\fontsize{14}{14}\selectfont] at (37,8) {IWM};
\node[anchor=west,inner sep=0pt,font=\fontsize{10}{10}\selectfont] at (67,8) {iShares Russell 2000 ETF};
\node[anchor=west,inner sep=0pt,font=\fontsize{9.5}{10}\selectfont] at (186,8) {NYSE + BATS};
\node[anchor=west,inner sep=0pt,font=\fontsize{9.5}{10}\selectfont] at (37,20) {2-Jan-2026 11:00am};
\node[anchor=east,inner sep=0pt,font=\djf\fontsize{9}{10}\selectfont,text=black!70] at (1413,8) {© StockCharts.com};
\node[anchor=east,inner sep=0pt,font=\fontsize{10}{10}\selectfont] at (1403,20.5) {\textbf{Open} 247.63\hspace{7.8pt}\textbf{High} 248.07\hspace{7.8pt}\textbf{Low} 245.86\hspace{7.8pt}\textbf{Last} 247.18\hspace{7.8pt}\textbf{Volume} 12.3M\hspace{7.8pt}\textbf{Chg} +1.02 (+0.41\%)};
\fill[black!70] (1405,23)--(1409,18)--(1413,23)--cycle;
% panel legends
\foreach \yy in {37,281,403}{\fill[upc!80!black] (40,\yy)--(44,\yy-8)--(48,\yy)--cycle;}
\node[leg] at (52,33) {RSI(14) 37.17};
\node[leg] at (52,277) {RSI(5) 46.59};
\node[leg] at (52,399) {RSI(2) 51.34};
\fill[black] (40,517) rectangle (48,525);
\node[leg] at (51,521) {IWM (60 min) 247.18};
\draw[navyl,line width=1.3pt] (40,531)--(50,531); \node[leg,text=navyl] at (51,531) {MA(50) 250.54};
\draw[redl,line width=1.3pt] (40,541.5)--(50,541.5); \node[leg,text=redl] at (51,541.5) {MA(100) 251.06};
\draw[black,line width=1.3pt] (40,552)--(50,552); \node[leg] at (51,552) {MA(200) 247.74};
\fill[upc] (40,566)--(44,558)--(48,566)--cycle; \node[leg,text=green!35!black] at (51,562) {EEM 55.94};
\draw[black,line width=1.5pt] (40,1145)--(49,1145);
\node[leg] at (52,1145) {MACD(12,26,9) -0.972\textcolor{redl}{, -0.990}\textcolor{bluel!70}{, 0.018}};
\fill[histc] (40,1272) rectangle (48,1264);
\node[leg] at (52,1267) {MACD(12,26,9) Hist 0.018};
% fib lines
\draw[draw=black,line width=.9pt] (189,532.5)--(1413,532.5);
\draw[fibt] (189,752)--(1413,752);
\draw[fibt] (189,820)--(1413,820);
\draw[fibt] (189,888)--(1413,888);
\draw[draw=black,line width=1pt] (189,1108)--(1413,1108);
\node[fibl] at (1412,526) {0.0\%: 257.34};
\node[fibl] at (1412,746) {38.2\%: 224.05};
\node[fibl] at (1412,813) {50.0\%: 213.77};
\node[fibl] at (1412,881) {61.8\%: 203.49};
\node[fibl] at (1412,1102) {100.0\%: 170.20};
% dashed levels
\draw[bd] (514,838.7)--(1000,838.7);
\draw[bd] (560,810.7)--(691,810.7);
\draw[bd] (740,727)--(1456,727);
\draw[bd] (776,715)--(1187,715);
\draw[bd] (1135,658)--(1190,658);
\draw[bd] (1163,682)--(1197,682);
\draw[draw=bluel,line width=1.4pt,dash pattern=on 3pt off 2pt] (1358,607)--(1412,607);
% blue trend lines
\draw[draw=bluel,line width=2.2pt] (143,884)--(1022,568);
\draw[draw=bluel,line width=1.3pt] (1022,568)--(1313,463);
\draw[draw=bluel,line width=1pt,dash pattern=on 4pt off 2pt] (173,935)--(1056,543);
\draw[bthin] (205,1108)--(741,713);
\draw[draw=bluel,line width=2.2pt] (205,1108)--(1097,616);
\draw[bthin] (1130,678)--(1282,530);
\draw[bthin] (1191,723)--(1291,540);
% red lines
\draw[draw=redl,line width=2pt] (0,749)--(333,1011);
\draw[draw=redl,line width=2pt] (0,844)--(188,1108);
\draw[rthin] (1022,569)--(1175,577);
\draw[rthin] (905,668)--(1160,681);
\draw[rthin] (1278,533)--(1405,578);
\draw[rthin] (1245,584)--(1373,628);
\draw[rthin] (1235,597)--(1378,611);
% arrows main
\draw[bkar] (3,791)--(3,857);
\draw[bkar] (640,810)--(640,743);
\draw[bkar] (1022,714)--(1022,572);
\draw[bkar] (1028,672)--(1028,574);
\draw[bkar] (1189,658)--(1189,605);
\draw[bkar] (1189,605)--(1189,589);
\draw[bkar] (1171,658)--(1171,713);
\draw[bkar] (1177,658)--(1177,728);
% RSI arrows
\draw[blar] (4,225)--(19,198);
\draw[blar] (188,220)--(199,192);
\draw[blar] (396,208)--(411,186);
\draw[blar] (487,197)--(502,176);
\draw[blar] (1352,217)--(1371,212);
\draw[rdar] (344,89)--(369,107);
\draw[rdar] (465,93)--(494,104);
\draw[rdar] (790,77)--(831,101);
\draw[rdar] (973,87)--(991,122);
\draw[rdar] (1217,82)--(1229,102);
\draw[rdar] (813,292)--(827,335);
\draw[blar] (832,352)--(823,364);
\draw[rdar] (972,286)--(992,326);
\draw[rdar] (1015,292)--(1031,312);
\draw[rdar] (1066,293)--(1087,315);
\draw[rdar] (1216,285)--(1227,322);
\draw[blar] (1353,383)--(1364,359);
% text boxes
\fill[black!35] (1150,64) rectangle (1395,83);
\node[draw=black!55,fill=white,anchor=center,minimum width=245pt,minimum height=19pt,inner sep=0pt,font=\bfseries\fontsize{11.5}{12}\selectfont] at (1270.5,71.5) {A WEAK RSI 14 BUY SIGNAL HAS FIXED};
\fill[black!35] (1156,267) rectangle (1394,286);
\node[draw=black!55,fill=white,anchor=center,minimum width=238pt,minimum height=19pt,inner sep=0pt,font=\bfseries\fontsize{11.5}{12}\selectfont] at (1273,274.5) {A WEAK RSI 5 BUY SIGNAL HAS FIXED};
% price labels
\foreach \xx/\yy/\lb in {137/852/207.41,178/892/201.62,92/957/194.81,163/964/193.75,211/966/190.40,232/986/187.37,253/1060/179.16,194/1118/170.20,375/846.5/208.26,402/936/197.87,478/809/214.01,598/739/224.66,656/735/225.31,621/819/215.57,524/885/205.54,695.5/848/211.03,921/595/246.35,933/679/236.76,979/587/247.64,1022/558/251.92,1071/562/251.37,1147/601/245.55,1056/658/239.96,1008/679/236.77,1130/688/235.48,1190/736/228.13,1277/522/257.34,1357/619/245.86}{\node[plab] at (\xx,\yy) {\lb};}
% watermark
\node[font=\wma\fontsize{12}{12}\selectfont,text=black!90] at (1142,771) {CHARTINGTHEMARKETS.SUBSTACK.COM};
\node[font=\wmb\bfseries\fontsize{8.5}{9}\selectfont,text=black!90] at (1139,795) {THROUGH A GLASS DARKLY};
% logo
\draw[draw=navyl,line width=1.6pt] (1322,781) ellipse (29pt and 17pt);
\foreach \xx/\ya/\yb in {1306/777/795,1313/772/792,1320/776/790,1327/768/790,1334/770/786,1341/765/782}{\draw[draw=navyl,line width=2.4pt] (\xx,\ya)--(\xx,\yb);}
\draw[draw=bluel!70!black,line width=2.4pt,-{Triangle[length=10pt,width=11pt]}] (1316,797) .. controls (1335,797) and (1345,785) .. (1351,770);
\end{scope}
\end{tikzpicture}
\end{document}
